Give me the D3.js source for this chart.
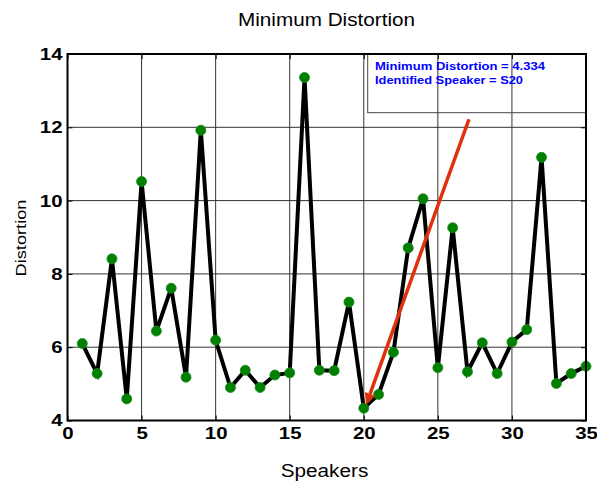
<!DOCTYPE html>
<html><head><meta charset="utf-8">
<script src="https://cdn.jsdelivr.net/npm/d3@7"></script>
<style>body{margin:0;background:#fff}</style>
</head><body><svg id="c" width="597" height="483"></svg>
<script>
// ---- data ----
const speakers = [1,2,3,4,5,6,7,8,9,10,11,12,13,14,15,16,17,18,19,20,21,22,23,24,25,26,27,28,29,30,31,32,33,34,35];
const distortion = [6.10,5.28,8.41,4.59,10.52,6.44,7.61,5.18,11.92,6.19,4.90,5.37,4.90,5.24,5.30,13.36,5.37,5.36,7.23,4.334,4.71,5.86,8.71,10.05,5.44,9.26,5.33,6.12,5.28,6.14,6.48,11.18,5.01,5.28,5.48];
const xTicks = [0,5,10,15,20,25,30,35];
const yTicks = [4,6,8,10,12,14];
const annotationLines = ["Minimum Distortion = 4.334", "Identified Speaker = S20"];
const arrowFrom = [27.1, 12.22];
const arrowTo = [20.15, 4.42];
const titleText = "Minimum Distortion";
const xLabel = "Speakers";
const yLabel = "Distortion";

// ---- layout ----
const L = 67.5, R = 586, T = 54, B = 420.5;
const svg = d3.select("#c");
const x = d3.scaleLinear().domain([0,35]).range([L,R]);
const y = d3.scaleLinear().domain([4,14]).range([B,T]);
const FONT = "Arial, 'Liberation Sans', Helvetica, sans-serif";

function stretchTo(sel, w){ sel.attr("textLength", w).attr("lengthAdjust","spacingAndGlyphs"); }
function stretchBy(sel, f){ sel.each(function(){ const l=this.getComputedTextLength(); d3.select(this).attr("textLength", l*f).attr("lengthAdjust","spacingAndGlyphs"); }); }

// grid
const g = svg.append("g");
g.selectAll("line.vx").data(xTicks.slice(1,-1)).join("line")
  .attr("x1",d=>x(d)).attr("x2",d=>x(d)).attr("y1",T).attr("y2",B)
  .attr("stroke","#333").attr("stroke-width",1);
g.selectAll("line.hy").data(yTicks.slice(1,-1)).join("line")
  .attr("x1",L).attr("x2",R).attr("y1",d=>y(d)).attr("y2",d=>y(d))
  .attr("stroke","#333").attr("stroke-width",1);

// annotation box
svg.append("rect").attr("x",367.7).attr("y",T).attr("width",R-367.7).attr("height",112.7-T)
  .attr("fill","none").attr("stroke","#444").attr("stroke-width",1);
const at = svg.append("g").selectAll("text").data(annotationLines).join("text")
  .attr("x",375).attr("y",(d,i)=>70+i*13.7)
  .attr("font-family",FONT).attr("font-weight","bold").attr("font-size",11.5)
  .attr("fill","#0000ff").text(d=>d);
at.each(function(d,i){ stretchTo(d3.select(this), i===0?170:148); });

// data line
const pts = speakers.map((s,i)=>[s,distortion[i]]);
svg.append("path").datum(pts)
  .attr("d", d3.line().x(d=>x(d[0])).y(d=>y(d[1])))
  .attr("fill","none").attr("stroke","#000").attr("stroke-width",4).attr("stroke-linejoin","miter");
svg.append("g").selectAll("circle").data(pts).join("circle")
  .attr("cx",d=>x(d[0])).attr("cy",d=>y(d[1])).attr("r",5)
  .attr("fill","#008000").attr("stroke","#1a8a1a").attr("stroke-width",0.8);

// arrow
const ax0 = x(arrowFrom[0]), ay0 = y(arrowFrom[1]), ax1 = x(arrowTo[0]), ay1 = y(arrowTo[1]);
const ang = Math.atan2(ay1-ay0, ax1-ax0), hl = 12, hw = 5.5;
const bx = ax1 - hl*Math.cos(ang), by = ay1 - hl*Math.sin(ang);
svg.append("line").attr("x1",ax0).attr("y1",ay0).attr("x2",bx).attr("y2",by)
  .attr("stroke","#e0300f").attr("stroke-width",3.5);
svg.append("polygon")
  .attr("points",[[ax1,ay1],[bx+hw*Math.sin(ang), by-hw*Math.cos(ang)],[bx-hw*Math.sin(ang), by+hw*Math.cos(ang)]].map(p=>p.join(",")).join(" "))
  .attr("fill","#e0300f");

// axes (ticks inward on all four sides)
const bottom = svg.append("g").attr("transform",`translate(0,${B})`)
  .call(d3.axisBottom(x).tickValues(xTicks).tickSizeInner(-5).tickSizeOuter(0).tickPadding(6.5));
const left = svg.append("g").attr("transform",`translate(${L},0)`)
  .call(d3.axisLeft(y).tickValues(yTicks).tickSizeInner(-5).tickSizeOuter(0).tickPadding(5));
svg.append("g").attr("transform",`translate(0,${T})`)
  .call(d3.axisTop(x).tickValues(xTicks).tickSizeInner(-5).tickSizeOuter(0).tickFormat(""));
svg.append("g").attr("transform",`translate(${R},0)`)
  .call(d3.axisRight(y).tickValues(yTicks).tickSizeInner(-5).tickSizeOuter(0).tickFormat(""));
svg.selectAll(".domain").remove();
svg.selectAll(".tick line").attr("stroke","#000").attr("stroke-width",1);
[bottom,left].forEach(a=>{
  a.selectAll("text").attr("font-family",FONT).attr("font-weight","bold").attr("font-size",17).attr("fill","#000");
  stretchBy(a.selectAll("text"),1.2);
});

// frame
svg.append("rect").attr("x",L).attr("y",T).attr("width",R-L).attr("height",B-T)
  .attr("fill","none").attr("stroke","#000").attr("stroke-width",2);

// titles
const tt = svg.append("text").attr("x",326.5).attr("y",25.5).attr("text-anchor","middle")
  .attr("font-family",FONT).attr("font-size",18.5).attr("fill","#000").text(titleText);
stretchTo(tt,177);
const xl = svg.append("text").attr("x",324.5).attr("y",476.5).attr("text-anchor","middle")
  .attr("font-family",FONT).attr("font-size",17.5).attr("fill","#000").text(xLabel);
stretchTo(xl,87.6);
const yl = svg.append("text").attr("transform","translate(25.5,238) rotate(-90)").attr("text-anchor","middle")
  .attr("font-family",FONT).attr("font-size",15.5).attr("fill","#000").text(yLabel);
stretchTo(yl,77);
</script></body></html>
